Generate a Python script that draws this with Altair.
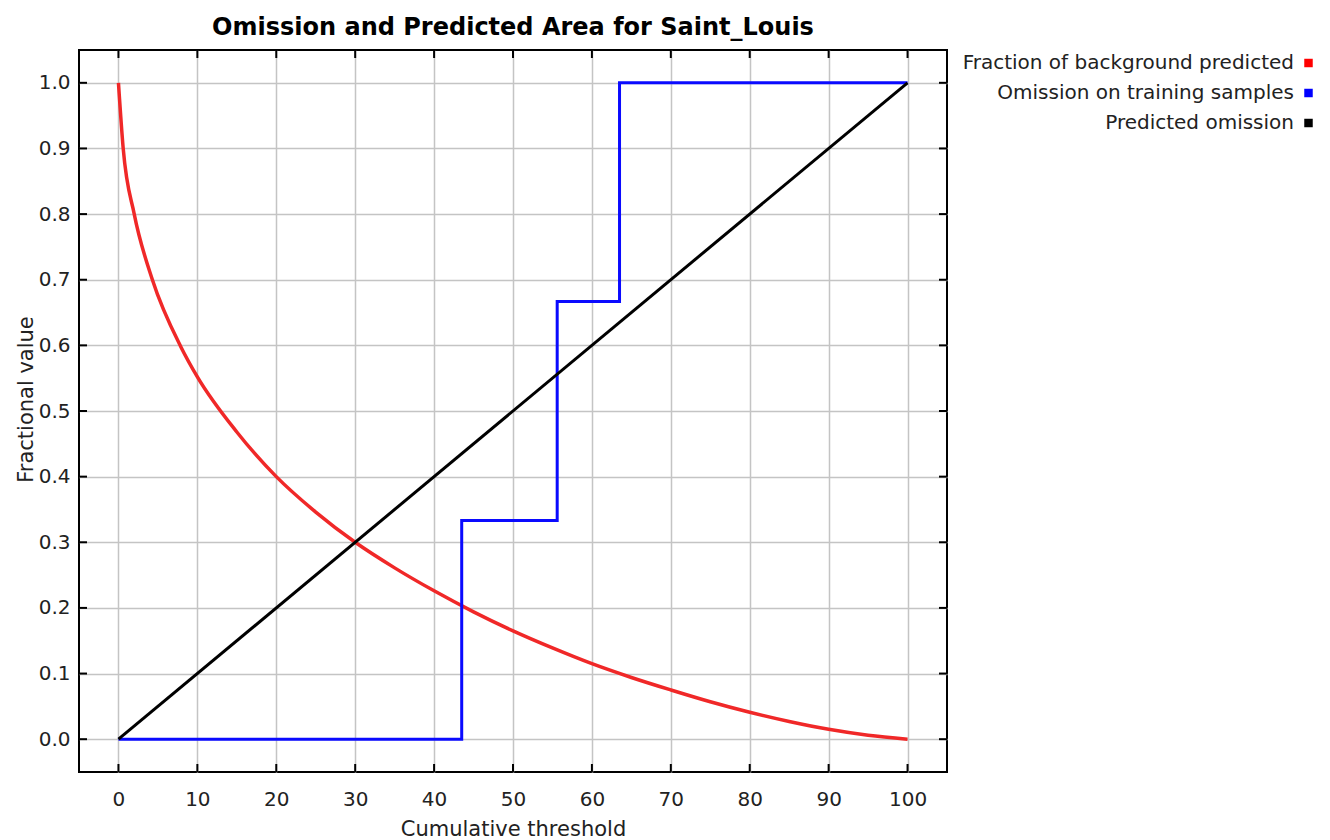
import altair as alt
import pandas as pd

FONT = "DejaVu Sans"

chart_title = "Omission and Predicted Area for Saint_Louis"
x_title = "Cumulative threshold"
y_title = "Fractional value"

x_ticks = [0, 10, 20, 30, 40, 50, 60, 70, 80, 90, 100]
y_ticks = [0.0, 0.1, 0.2, 0.3, 0.4, 0.5, 0.6, 0.7, 0.8, 0.9, 1.0]

# Fraction of background predicted (red)
bg_threshold = [0, 0.6, 2, 4.3, 7.9, 10, 15, 20, 25, 30, 35, 40, 45, 50,
                55, 60, 65, 70, 75, 80, 85, 90, 95, 100]
bg_fraction = [1.0, 0.9, 0.8, 0.7, 0.598, 0.552, 0.468, 0.40, 0.346, 0.30, 0.261,
               0.226, 0.194, 0.165, 0.139, 0.115, 0.094, 0.075, 0.057,
               0.041, 0.027, 0.015, 0.006, 0.0]

# Omission on training samples (blue, step)
om_threshold = [0, 43.5, 55.6, 63.5, 100]
om_value = [0.0, 0.3333, 0.6667, 1.0, 1.0]

# Predicted omission (black)
pred_threshold = [0, 100]
pred_value = [0.0, 1.0]

series_names = ["Fraction of background predicted",
                "Omission on training samples",
                "Predicted omission"]
series_colors = ["#ff0000", "#0000ff", "#000000"]

W, H = 868, 722
PAD = {"left": 79, "top": 50, "right": 1330 - 79 - W, "bottom": 840 - 50 - H}

xs = alt.Scale(domain=[-5, 105], nice=False, zero=False)
ys = alt.Scale(domain=[-0.05, 1.05], nice=False, zero=False)

xax = alt.Axis(values=x_ticks, title=x_title, grid=True, ticks=False, domain=False,
               labelPadding=17, titleX=W / 2, titleY=63, titleAlign="center",
               titleBaseline="alphabetic", format="d")
yax = alt.Axis(values=y_ticks, title=y_title, grid=True, ticks=False, domain=False,
               labelPadding=9, format=".1f", titleX=-47, titleY=349,
               titleAlign="center", titleBaseline="alphabetic", titleAngle=-90)

bg_df = pd.DataFrame({"t": bg_threshold, "v": bg_fraction})
om_df = pd.DataFrame({"t": om_threshold, "v": om_value})
pred_df = pd.DataFrame({"t": pred_threshold, "v": pred_value})
xt_df = pd.DataFrame({"t": x_ticks})
yt_df = pd.DataFrame({"v": y_ticks})


def X(f="t:Q"):
    return alt.X(f, scale=xs, axis=xax)


def Y(f="v:Q"):
    return alt.Y(f, scale=ys, axis=yax)


red = alt.Chart(bg_df).mark_line(color="#f02828", strokeWidth=3.5, interpolate="monotone").encode(
    x=X(), y=Y())
blue = alt.Chart(om_df).mark_line(color="#0a0aff", strokeWidth=3, interpolate="step-after").encode(
    x=X(), y=Y())
black = alt.Chart(pred_df).mark_line(color="#000000", strokeWidth=3).encode(
    x=X(), y=Y())

TL = 8
tick_bottom = alt.Chart(xt_df).mark_rule(color="black", strokeWidth=2, y2Offset=-TL).encode(
    x=X(), y=alt.datum(-0.05, scale=ys, axis=yax), y2=alt.datum(-0.05))
tick_top = alt.Chart(xt_df).mark_rule(color="black", strokeWidth=2, y2Offset=TL).encode(
    x=X(), y=alt.datum(1.05, scale=ys, axis=yax), y2=alt.datum(1.05))
tick_left = alt.Chart(yt_df).mark_rule(color="black", strokeWidth=2, x2Offset=TL).encode(
    y=Y(), x=alt.datum(-5, scale=xs, axis=xax), x2=alt.datum(-5))
tick_right = alt.Chart(yt_df).mark_rule(color="black", strokeWidth=2, x2Offset=-TL).encode(
    y=Y(), x=alt.datum(105, scale=xs, axis=xax), x2=alt.datum(105))

plot = alt.layer(tick_bottom, tick_top, tick_left, tick_right, red, blue, black)

leg_df = pd.DataFrame({"series": series_names})
leg_y = alt.Y("series:N", scale=alt.Scale(type="point", domain=series_names, range=[13, 73], padding=0),
              axis=None)
leg_text = alt.Chart(leg_df).mark_text(align="right", baseline="middle", fontSize=20, font=FONT,
                                       color="#222222").encode(
    x=alt.value(1294 - 79), y=leg_y, text="series:N")
leg_sq = alt.Chart(leg_df).mark_point(shape="square", filled=True, size=72, opacity=1).encode(
    x=alt.value(1308.5 - 79), y=leg_y,
    color=alt.Color("series:N", scale=alt.Scale(domain=series_names, range=series_colors), legend=None))
legend = alt.layer(leg_text, leg_sq)

chart = alt.layer(plot, legend).resolve_scale(y="independent").properties(
    width=W, height=H, padding=PAD, autosize="none",
    title=alt.TitleParams(text=chart_title, font=FONT, fontSize=24, fontWeight="bold", color="black",
                          anchor="middle", frame="group", offset=13, baseline="alphabetic", dy=23),
    background="white",
).configure_view(stroke="black", strokeWidth=2).configure_axis(
    labelFont=FONT, labelFontSize=20, labelColor="#222222",
    titleFont=FONT, titleFontSize=21, titleFontWeight="normal", titleColor="#222222",
    gridColor="#c4c4c4", gridWidth=1.5,
)

chart.save("out.html", embed_options={"renderer": "svg", "actions": False})
